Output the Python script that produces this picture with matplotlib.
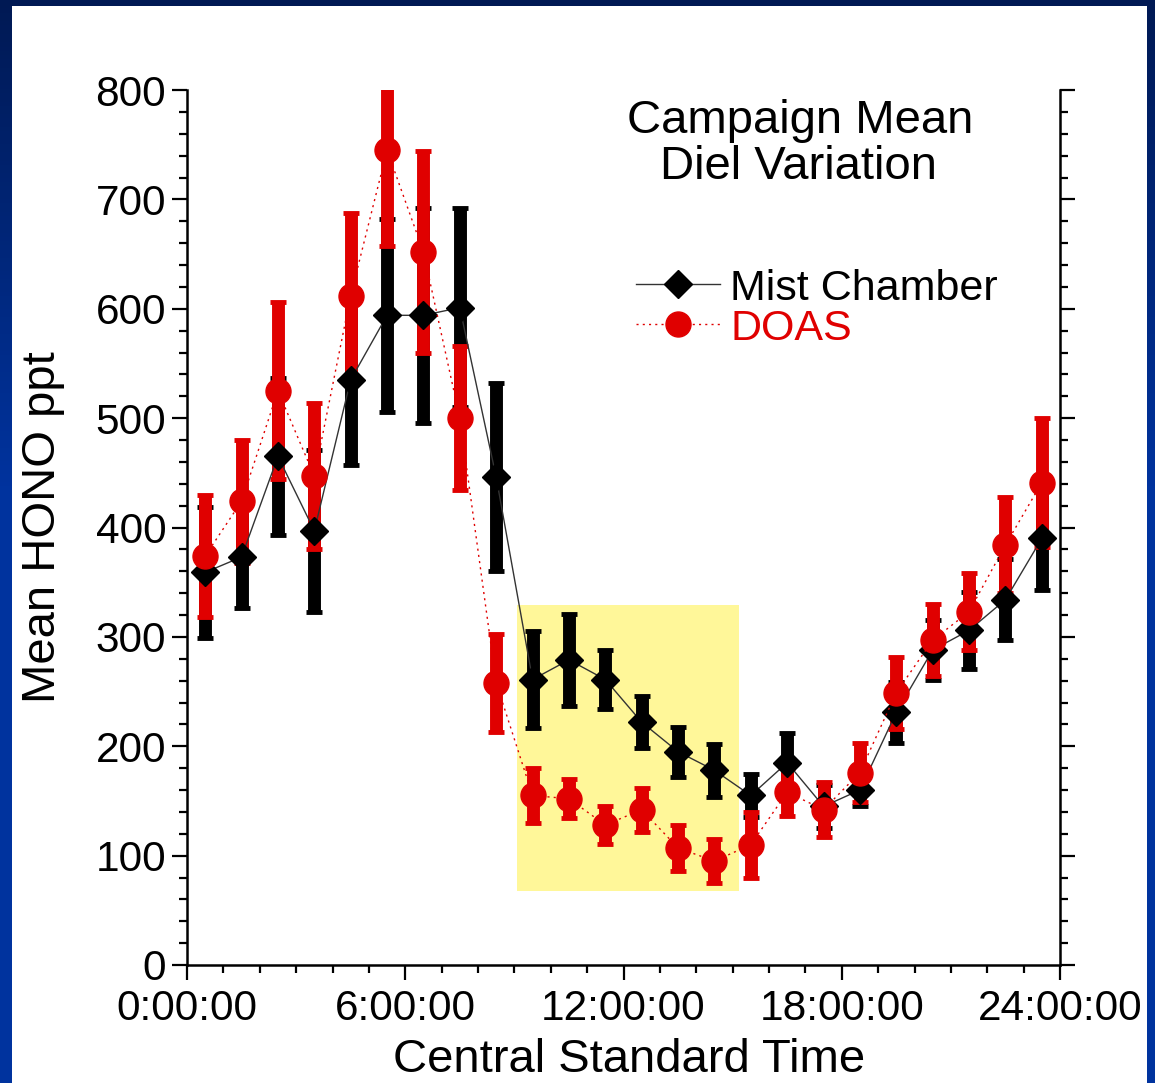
#!/usr/bin/env python3
"""
Campaign mean diel variation of HONO: Mist Chamber vs DOAS.

Hourly means with error bars, drawn on a slide-style blue frame.
"""

import numpy as np
import matplotlib
matplotlib.use("Agg")
import matplotlib.pyplot as plt
from matplotlib.patches import Rectangle
from matplotlib.ticker import MultipleLocator, FixedLocator

plt.rcParams['font.family'] = ['Liberation Sans', 'DejaVu Sans']

# Hour-of-day bin centres (CST)
hours = [0.5, 1.5, 2.5, 3.5, 4.5, 5.5, 6.5, 7.5, 8.5, 9.5, 10.5, 11.5,
         12.5, 13.5, 14.5, 15.5, 16.5, 17.5, 18.5, 19.5, 20.5, 21.5, 22.5, 23.5]

# Mist Chamber HONO, ppt
mist_mean = [359, 373, 465, 397, 535, 594, 594, 601, 446, 261, 279, 261,
             222, 195, 178, 155, 185, 145, 160, 231, 288, 306, 334, 390]
mist_err = [60, 47, 72, 74, 78, 88, 98, 91, 86, 44, 42, 27,
            24, 23, 24, 20, 27, 20, 15, 28, 27, 35, 37, 47]

# DOAS HONO, ppt
doas_mean = [374, 424, 525, 447, 612, 745, 652, 500, 258, 155, 152, 128,
             142, 107, 95, 110, 158, 142, 176, 249, 297, 323, 384, 441]
doas_err = [56, 56, 81, 67, 76, 88, 92, 66, 45, 25, 18, 17,
            20, 21, 20, 30, 22, 25, 27, 33, 33, 35, 44, 59]

# Daytime window highlighted in yellow (hours, ppt)
highlight_hours = (9.07, 15.18)
highlight_ppt = (68, 329)

time_ticks = [0, 6, 12, 18, 24]
time_labels = ['0:00:00', '6:00:00', '12:00:00', '18:00:00', '24:00:00']

RED = '#e00000'


def desenhar_fundo(fig):
    """Blue gradient frame with a white panel on top."""
    bg = fig.add_axes([0, 0, 1, 1], zorder=-10)
    grad = np.linspace(0, 1, 256).reshape(-1, 1)
    grad = np.clip(grad / 0.45, 0, 1)
    top = np.array([0.0, 0.10, 0.33])
    bottom = np.array([0.0, 0.20, 0.62])
    img = top + (bottom - top) * grad[..., None]
    img = np.repeat(img, 4, axis=1)
    bg.imshow(img, extent=[0, 1, 0, 1], aspect='auto', origin='upper')
    bg.add_patch(Rectangle((12 / 1155, 0), (1147 - 12) / 1155, (1083 - 6) / 1083,
                           facecolor='white', edgecolor='none'))
    bg.set_xlim(0, 1)
    bg.set_ylim(0, 1)
    bg.axis('off')


def main():
    fig = plt.figure(figsize=(11.55, 10.83), dpi=100)
    desenhar_fundo(fig)

    ax = fig.add_axes([187 / 1155, 118 / 1083, 873 / 1155, 875 / 1083])
    ax.set_facecolor('none')

    # highlighted window
    ax.add_patch(Rectangle((highlight_hours[0], highlight_ppt[0]),
                           highlight_hours[1] - highlight_hours[0],
                           highlight_ppt[1] - highlight_ppt[0],
                           facecolor='#fff799', edgecolor='none', zorder=0.5))

    # error bars first, markers on top
    ax.errorbar(hours, mist_mean, yerr=mist_err, fmt='none', ecolor='black',
                elinewidth=9.3, capsize=6.0, capthick=3.5, zorder=2)
    ax.errorbar(hours, doas_mean, yerr=doas_err, fmt='none', ecolor=RED,
                elinewidth=9.3, capsize=6.0, capthick=3.5, zorder=3)

    ax.plot(hours, mist_mean, color='#333333', lw=1.0, marker='D', ms=14,
            mfc='black', mec='black', zorder=4, label='Mist Chamber')
    ax.plot(hours, doas_mean, color=RED, lw=1.0, ls=(0, (1.5, 3)), marker='o',
            ms=18, mfc=RED, mec=RED, zorder=5, label='DOAS')

    # eixos
    ax.set_xlim(0, 24)
    ax.set_ylim(0, 800)
    ax.xaxis.set_major_locator(FixedLocator(time_ticks))
    ax.set_xticklabels(time_labels)
    ax.xaxis.set_minor_locator(MultipleLocator(1))
    ax.yaxis.set_major_locator(MultipleLocator(100))
    ax.yaxis.set_minor_locator(MultipleLocator(20))

    for side in ['left', 'right', 'bottom']:
        ax.spines[side].set_linewidth(1.8)
    ax.spines['top'].set_visible(False)

    ax.tick_params(axis='both', which='major', direction='out', length=11,
                   width=1.6, labelsize=30.5, pad=4)
    ax.tick_params(axis='x', which='major', pad=6)
    ax.tick_params(axis='both', which='minor', direction='out', length=6,
                   width=1.6)
    ax.tick_params(axis='y', which='both', right=True)

    ax.set_ylabel('Mean HONO ppt', fontsize=34)
    ax.yaxis.set_label_coords(-0.14, 0.5)
    ax.set_xlabel('Central Standard Time', fontsize=34, va='top')
    ax.xaxis.set_label_coords(0.506, -0.083)

    ax.text(0.702, 0.965, 'Campaign Mean', transform=ax.transAxes,
            fontsize=34, ha='center', va='center')
    ax.text(0.700, 0.912, 'Diel Variation', transform=ax.transAxes,
            fontsize=34, ha='center', va='center')

    leg = ax.legend(loc='upper left', bbox_to_anchor=(0.514, 0.796),
                    frameon=False, fontsize=31, handlelength=1.95,
                    handletextpad=0.25, labelspacing=0.0, borderpad=0,
                    borderaxespad=0)
    leg.get_texts()[1].set_color(RED)

    fig.savefig('out.png', dpi=100)


if __name__ == '__main__':
    main()
